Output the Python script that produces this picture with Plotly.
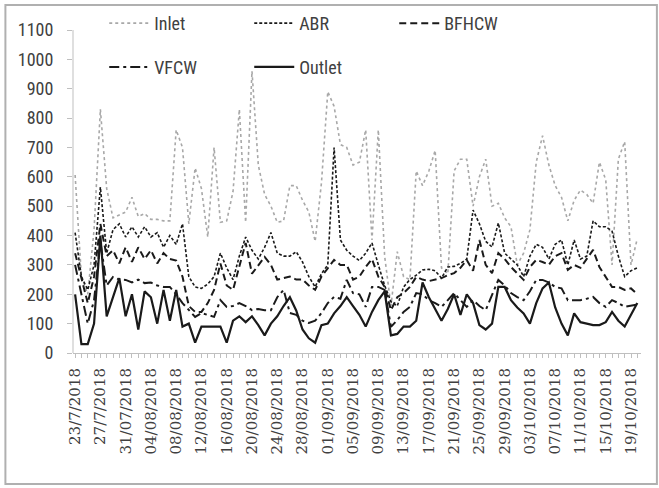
import pandas as pd
import plotly.graph_objects as go

dates = pd.date_range("2018-07-23", periods=90, freq="D")

inlet = [606, 260, 200, 420, 830, 560, 460, 470, 480, 530,
         465, 475, 455, 455, 450, 450, 760, 700, 440, 630,
         560, 395, 700, 445, 450, 550, 830, 445, 960, 640,
         540, 500, 445, 450, 570, 570, 520, 480, 380, 580,
         890, 840, 710, 700, 640, 650, 760, 385, 760, 330,
         160, 345, 260, 250, 620, 570, 620, 690, 290, 270,
         620, 660, 660, 500, 600, 660, 500, 510, 460, 430,
         300, 340, 420, 650, 740, 640, 570, 530, 450, 520,
         555, 540, 510, 650, 590, 300, 660, 720, 300, 390]

abr = [410, 260, 215, 300, 565, 340, 420, 440, 395, 430,
       395, 430, 395, 410, 360, 400, 370, 440, 260, 225,
       220, 235, 260, 340, 290, 250, 330, 395, 350, 320,
       360, 410, 340, 330, 330, 345, 310, 260, 225, 270,
       300, 700, 385, 350, 330, 315, 340, 375, 300, 230,
       175, 160, 225, 250, 265, 283, 285, 280, 255, 293,
       295, 305, 320, 487, 440, 380, 361, 443, 340, 320,
       300, 260, 330, 370, 360, 320, 370, 385, 300, 385,
       320, 330, 450, 430, 430, 415, 330, 260, 280, 290]

bfhcw = [340, 250, 170, 260, 440, 330, 350, 305, 360, 310,
         360, 320, 350, 305, 340, 320, 315, 260, 160, 140,
         140, 170, 215, 305, 230, 215, 300, 375, 270, 300,
         327, 300, 250, 255, 260, 250, 250, 230, 215, 260,
         290, 317, 300, 300, 250, 260, 293, 320, 260, 225,
         146, 190, 204, 225, 259, 250, 245, 249, 255, 265,
         272, 290, 317, 280, 385, 300, 272, 340, 320, 293,
         270, 249, 293, 317, 310, 300, 330, 340, 283, 300,
         290, 320, 351, 293, 260, 225, 225, 215, 220, 200]

vfcw = [300, 200, 100, 180, 380, 230, 259, 250, 249, 240,
        250, 238, 240, 230, 225, 225, 200, 170, 146, 123,
        136, 130, 123, 180, 157, 160, 170, 160, 146, 150,
        146, 146, 190, 215, 136, 130, 110, 102, 110, 136,
        170, 191, 185, 249, 204, 200, 157, 225, 225, 215,
        89, 112, 140, 157, 204, 200, 180, 170, 157, 180,
        204, 180, 157, 180, 160, 146, 200, 249, 230, 204,
        190, 180, 210, 249, 249, 240, 225, 220, 180, 180,
        180, 185, 191, 170, 157, 180, 170, 157, 160, 165]

outlet = [200, 30, 30, 100, 400, 125, 190, 255, 125, 200,
          80, 210, 190, 100, 215, 110, 215, 90, 100, 35,
          90, 90, 90, 90, 35, 110, 125, 105, 125, 95,
          60, 100, 125, 160, 190, 145, 80, 50, 35, 95,
          100, 135, 160, 190, 160, 130, 90, 140, 180, 210,
          60, 65, 90, 90, 110, 240, 190, 150, 110, 150,
          200, 130, 200, 170, 95, 80, 100, 225, 225, 180,
          155, 135, 100, 170, 220, 240, 155, 100, 60, 135,
          105, 100, 95, 95, 105, 140, 110, 90, 130, 170]

y_ticks = list(range(0, 1101, 100))
tick_labels = ["23/7/2018", "27/7/2018", "31/07/2018", "04/08/2018", "08/08/2018",
               "12/08/2018", "16/08/2018", "20/08/2018", "24/08/2018", "28/08/2018",
               "01/09/2018", "05/09/2018", "09/09/2018", "13/09/2018", "17/09/2018",
               "21/09/2018", "25/09/2018", "29/09/2018", "03/10/2018", "07/10/2018",
               "11/10/2018", "15/10/2018", "19/10/2018"]
tick_dates = [dates[i * 4] for i in range(len(tick_labels))]

series = [
    ("Inlet", inlet, dict(color="#a8a8a8", width=1.6, dash="dot"), "legend"),
    ("ABR", abr, dict(color="#1a1a1a", width=1.6, dash="3px,2px"), "legend"),
    ("BFHCW", bfhcw, dict(color="#1a1a1a", width=2, dash="7px,4px"), "legend"),
    ("VFCW", vfcw, dict(color="#1a1a1a", width=2, dash="10px,4px,3px,4px"), "legend2"),
    ("Outlet", outlet, dict(color="#1a1a1a", width=2.2), "legend2"),
]

fig = go.Figure()
for name, vals, line, lg in series:
    fig.add_trace(go.Scatter(x=dates, y=vals, mode="lines", name=name,
                             line=line, legend=lg))

font_family = "Liberation Sans Narrow, Roboto Condensed, Liberation Sans, sans-serif"
legend_common = dict(orientation="h", xref="paper", yref="paper",
                     xanchor="left", yanchor="top",
                     entrywidth=90, entrywidthmode="pixels",
                     font=dict(family=font_family, size=18, color="#404040"),
                     bgcolor="rgba(0,0,0,0)", itemwidth=40,
                     traceorder="normal")

# plot area spans pixel rows 0..353; 1100 lands at row ~30
y_top = 1100 * 353 / 323

fig.update_layout(
    width=659, height=488,
    margin=dict(l=73, r=18, t=0, b=135),
    paper_bgcolor="white", plot_bgcolor="white",
    showlegend=True,
    legend=dict(x=0.055, y=0.986, **legend_common),
    legend2=dict(x=0.055, y=0.862, **legend_common),
    xaxis=dict(
        range=[dates[0] - pd.Timedelta(hours=8), dates[-1] + pd.Timedelta(hours=14)],
        tickmode="array", tickvals=tick_dates, ticktext=tick_labels,
        tickangle=-90, ticks="outside", ticklen=4, tickcolor="#bfbfbf",
        ticklabelstandoff=4,
        showline=True, linecolor="#bfbfbf", linewidth=1,
        showgrid=False, zeroline=False,
        tickfont=dict(family="DejaVu Serif, serif", size=15, color="#404040"),
        minor=dict(dtick=86400000, ticks="outside", ticklen=4, tickcolor="#bfbfbf",
                   showgrid=False),
    ),
    yaxis=dict(
        range=[0, y_top], tickmode="array", tickvals=y_ticks,
        ticks="outside", ticklen=5, tickcolor="#bfbfbf",
        ticklabelstandoff=10,
        showline=False,
        showgrid=False, zeroline=False,
        tickfont=dict(family=font_family, size=18, color="#404040"),
    ),
    shapes=[
        dict(type="line", xref="paper", yref="y", x0=0, x1=0, y0=0, y1=y_ticks[-1],
             line=dict(color="#bfbfbf", width=1)),
        dict(type="rect", xref="paper", yref="paper",
             x0=-0.119, x1=1.028, y0=-0.371, y1=0.986,
             line=dict(color="#b0b0b0", width=2), fillcolor="rgba(0,0,0,0)",
             layer="below"),
    ],
)

fig.write_html("out.html", config={"displayModeBar": False},
               post_script="document.body.style.margin='0';")
